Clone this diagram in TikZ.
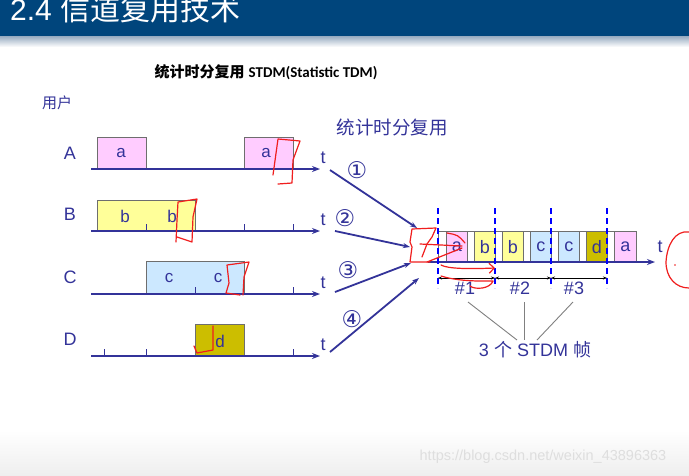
\documentclass[tikz,border=0pt]{standalone}
\usepackage{fontspec}
\setmainfont{Liberation Sans}
\newfontfamily\cjk{Noto Sans CJK SC}
\newfontfamily\carl{Carlito}
\newfontfamily\djv{DejaVu Sans}
\usetikzlibrary{arrows.meta}
\definecolor{hdr}{RGB}{0,69,124}
\definecolor{hdrshadow}{RGB}{150,170,192}
\definecolor{ink}{RGB}{51,51,153}
\definecolor{pinkf}{RGB}{255,204,255}
\definecolor{yelf}{RGB}{255,255,153}
\definecolor{bluef}{RGB}{204,232,255}
\definecolor{olivef}{RGB}{204,190,0}
\definecolor{boxline}{RGB}{110,110,110}
\definecolor{dashblue}{RGB}{0,0,255}
\definecolor{scrib}{RGB}{240,30,30}
\definecolor{wmark}{RGB}{222,222,222}
\tikzset{
  timeaxis/.style={draw=ink, line width=2pt, -{Stealth[length=8pt,width=6pt]}},
  slotbox/.style={draw=boxline, line width=0.8pt, inner sep=0pt, minimum height=31pt, anchor=south west},
  tickmark/.style={draw=ink, line width=1pt},
  lbl/.style={text=ink, font=\fontsize{18}{20}\selectfont, inner sep=0pt},
  boxlbl/.style={text=ink, font=\fontsize{17}{19}\selectfont, inner sep=0pt},
  circnum/.style={text=ink, font=\djv\fontsize{23}{25}\selectfont, inner sep=0pt},
  feed/.style={draw=ink, line width=1.8pt, -{Stealth[length=7pt,width=5pt]}},
  framesep/.style={draw=dashblue, line width=2pt, dash pattern=on 6pt off 4pt},
  dimline/.style={draw=black, line width=0.6pt, {Stealth[length=4pt,width=3pt]}-{Stealth[length=4pt,width=3pt]}},
  pointer/.style={draw=gray, line width=0.9pt},
  scribble/.style={draw=scrib, line width=1.2pt, line cap=round, line join=round},
}
\begin{document}
\begin{tikzpicture}[x=1pt,y=-1pt]
\useasboundingbox (0,0) rectangle (689,475);
\fill[white] (0,0) rectangle (689,475);
% header
\fill[hdr] (0,0) rectangle (689,36);
\shade[top color=hdrshadow, bottom color=white] (0,36) rectangle (689,47);
\node[anchor=west, text=white, inner sep=0pt, font=\fontsize{30}{32}\selectfont] (head) at (10,9) {2.4 {\cjk 信道复用技术}};
% bottom band
\shade[top color=white, bottom color=gray!13] (0,430) rectangle (689,475);
\node[text=wmark, inner sep=0pt, font=\fontsize{14.5}{16}\selectfont] (wm) at (543,457) {https://blog.csdn.net/weixin\_43896363};
% titles
\node[inner sep=0pt, font=\fontsize{15}{17}\selectfont\bfseries] (title) at (266,72) {{\cjk 统计时分复用} {\carl STDM(Statistic TDM)}};
\node[text=ink, inner sep=0pt, font=\cjk\fontsize{15}{17}\selectfont] (users) at (57,103) {用户};
\node[text=ink, inner sep=0pt, font=\cjk\fontsize{18.5}{20}\selectfont] (muxlbl) at (392,127) {统计时分复用};
% row boxes
\node[slotbox, fill=pinkf, minimum width=49pt] (A1) at (97,169) {};
\node[slotbox, fill=pinkf, minimum width=49pt] (A2) at (244,169) {};
\node[slotbox, fill=yelf, minimum width=98pt, minimum height=30pt] (B1) at (97,231) {};
\node[slotbox, fill=bluef, minimum width=98pt, minimum height=32pt] (C1) at (146,294) {};
\node[slotbox, fill=olivef, minimum width=49pt] (D1) at (195,356) {};
% box letters
\node[boxlbl] (la1) at (121,153) {a};
\node[boxlbl] (la2) at (266,153) {a};
\node[boxlbl] (lb1) at (125,216) {b};
\node[boxlbl] (lb2) at (172,216) {b};
\node[boxlbl] (lc1) at (169,278) {c};
\node[boxlbl] (lc2) at (218,278) {c};
\node[boxlbl] (ld1) at (220,341) {d};
% row axes
\coordinate (As) at (91,169); \coordinate (Ae) at (320,169);
\coordinate (Bs) at (91,231); \coordinate (Be) at (320,231);
\coordinate (Cs) at (91,294); \coordinate (Ce) at (320,294);
\coordinate (Ds) at (91,356); \coordinate (De) at (320,356);
\draw[timeaxis] (As) -- (Ae);
\draw[timeaxis] (Bs) -- (Be);
\draw[timeaxis] (Cs) -- (Ce);
\draw[timeaxis] (Ds) -- (De);
% ticks
\foreach \x in {146,244,293} \draw[tickmark] (\x,231) -- ++(0,-7);
\foreach \x in {195,293} \draw[tickmark] (\x,294) -- ++(0,-7);
\foreach \x in {104,146,293} \draw[tickmark] (\x,356) -- ++(0,-7);
% row labels
\node[lbl] (rA) at (70,153) {A};
\node[lbl] (rB) at (70,214) {B};
\node[lbl] (rC) at (70,277) {C};
\node[lbl] (rD) at (70,339) {D};
\node[lbl] (tA) at (323,158) {t};
\node[lbl] (tB) at (323,220) {t};
\node[lbl] (tC) at (323,283) {t};
\node[lbl] (tD) at (323,345) {t};
% feeds into multiplexer
\coordinate (f1s) at (330,170); \coordinate (f1e) at (417,228);
\coordinate (f2s) at (335,231); \coordinate (f2e) at (410,247);
\coordinate (f3s) at (335,292); \coordinate (f3e) at (411,263);
\coordinate (f4s) at (330,352); \coordinate (f4e) at (419,278);
\draw[feed] (f1s) -- (f1e);
\draw[feed] (f2s) -- (f2e);
\draw[feed] (f3s) -- (f3e);
\draw[feed] (f4s) -- (f4e);
\node[circnum] (n1) at (357,170) {①};
\node[circnum] (n2) at (345,218) {②};
\node[circnum] (n3) at (348,270) {③};
\node[circnum] (n4) at (352,319) {④};
% output frame
\node[slotbox, fill=white, minimum width=198pt, minimum height=30pt] (frame) at (438,262) {};
\node[slotbox, fill=pinkf,  minimum width=21pt, minimum height=30pt] (o1) at (446,262) {};
\node[slotbox, fill=yelf,   minimum width=21pt, minimum height=30pt] (o2) at (474,262) {};
\node[slotbox, fill=yelf,   minimum width=21pt, minimum height=30pt] (o3) at (502,262) {};
\node[slotbox, fill=bluef,  minimum width=21pt, minimum height=30pt] (o4) at (530,262) {};
\node[slotbox, fill=bluef,  minimum width=21pt, minimum height=30pt] (o5) at (558,262) {};
\node[slotbox, fill=olivef, minimum width=21pt, minimum height=30pt] (o6) at (586,262) {};
\node[slotbox, fill=pinkf,  minimum width=22pt, minimum height=30pt] (o7) at (614,262) {};
\node[lbl] at (o1.center) {a};
\node[lbl] at (o2.center) {b};
\node[lbl] at (o3.center) {b};
\node[lbl] at (o4.center) {c};
\node[lbl] at (o5.center) {c};
\node[lbl] at (o6.center) {d};
\node[lbl] at (o7.center) {a};
\coordinate (os) at (428,262); \coordinate (oe) at (655,262);
\draw[timeaxis] (os) -- (oe);
\node[lbl] (tO) at (660,247) {t};
% frame separators
\coordinate (d1t) at (438,208); \coordinate (d1b) at (438,288);
\coordinate (d2t) at (495,208); \coordinate (d2b) at (495,288);
\coordinate (d3t) at (551,208); \coordinate (d3b) at (551,288);
\coordinate (d4t) at (607,208); \coordinate (d4b) at (607,288);
\draw[framesep] (d1t) -- (d1b);
\draw[framesep] (d2t) -- (d2b);
\draw[framesep] (d3t) -- (d3b);
\draw[framesep] (d4t) -- (d4b);
\coordinate (m1) at (438,278); \coordinate (m2) at (495,278);
\coordinate (m3) at (551,278); \coordinate (m4) at (607,278);
\draw[dimline] (m1) -- (m2);
\draw[dimline] (m2) -- (m3);
\draw[dimline] (m3) -- (m4);
\node[lbl] (h1) at (465,288) {\#1};
\node[lbl] (h2) at (520,288) {\#2};
\node[lbl] (h3) at (574,288) {\#3};
\node[text=ink, inner sep=0pt, font=\fontsize{18}{20}\selectfont] (frames) at (535,350) {3 {\cjk 个} STDM {\cjk 帧}};
\coordinate (p1) at (468,302); \coordinate (p2) at (524,302); \coordinate (p3) at (573,302);
\coordinate (q1) at (517,340); \coordinate (q2) at (524,340); \coordinate (q3) at (537,340);
\draw[pointer] (p1) -- (q1);
\draw[pointer] (p2) -- (q2);
\draw[pointer] (p3) -- (q3);
% red hand-drawn marks
\draw[scribble] (273,175) -- (278,139) -- (300,141) -- (293,160) -- (292,183) -- (278,184);
\draw[scribble] (176,242) -- (177,220) -- (178,202) -- (197,199) -- (193,217) -- (192,242) -- (177,237);
\draw[scribble] (240,295) -- (226,293) -- (229,283) -- (227,265) -- (249,262) -- (244,277) -- (243,295);
\draw[scribble] (194,346) -- (197,353) -- (213,350) -- (213,326);
\draw[scribble] (422,257) -- (427,244) -- (432,237) -- (436,228) -- (412,229) -- (410,242) -- (412,247) -- (410,262) -- (430,262);
\draw[scribble] (420,244) -- (462,246);
\draw[scribble] (427,262) -- (462,248);
\draw[scribble] (447,233) .. controls (458,235) .. (465,243);
\draw[scribble, -{Straight Barb[length=5pt]}] (441,265) .. controls (448,269) and (470,269) .. (495,268);
\draw[scribble] (441,276) .. controls (460,282) and (485,281) .. (493,281) .. controls (490,289) and (475,290) .. (470,286);
\draw[scribble] (689,232) .. controls (675,230) and (667,245) .. (666,262) .. controls (666,278) and (676,288) .. (689,288);
\fill[scrib] (675,265) circle (0.8);
\end{tikzpicture}
\end{document}
